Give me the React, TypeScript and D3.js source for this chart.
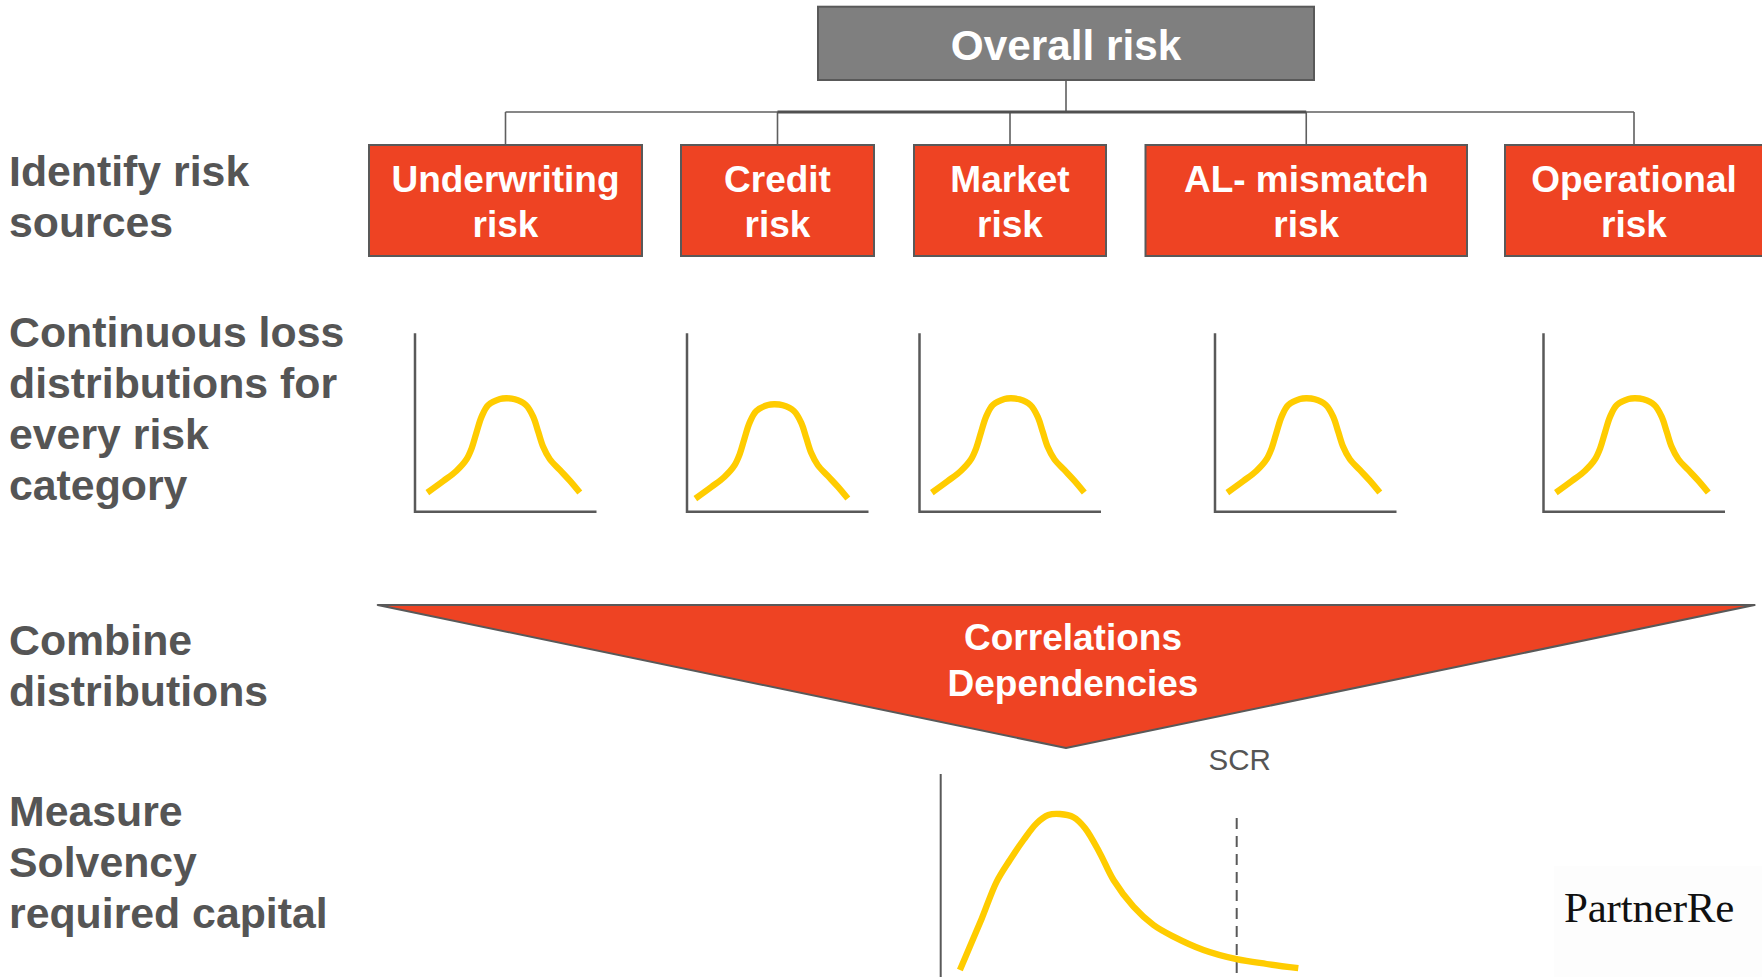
import React from "react";
import * as d3 from "d3";

// Row headings on the left (one entry per process step, split into lines)
const stepLabels: string[][] = [
  ["Identify risk", "sources"],
  ["Continuous loss", "distributions for", "every risk", "category"],
  ["Combine", "distributions"],
  ["Measure", "Solvency", "required capital"],
];
const stepFirstBaseline = [185.5, 347, 655, 825.5];

// Risk categories feeding the overall risk
const rootLabel = "Overall risk";
const riskCategories: string[][] = [
  ["Underwriting", "risk"],
  ["Credit", "risk"],
  ["Market", "risk"],
  ["AL- mismatch", "risk"],
  ["Operational", "risk"],
];
const categorySpans: [number, number][] = [
  [369, 642],
  [681, 874],
  [914, 1106],
  [1145.5, 1467],
  [1505, 1763],
];

// Per-category loss distribution (x: loss, 0..1 of panel width; y: density, 0..1 of panel height)
const bellLoss = [0.068, 0.156, 0.229, 0.284, 0.312, 0.34, 0.367, 0.404, 0.468, 0.505, 0.55, 0.611, 0.651, 0.679, 0.706, 0.743, 0.798, 0.853, 0.908];
const bellDensity = [0.107, 0.172, 0.23, 0.294, 0.355, 0.448, 0.533, 0.598, 0.632, 0.636, 0.63, 0.598, 0.533, 0.448, 0.364, 0.294, 0.234, 0.174, 0.107];
const panelLefts = [415, 687, 919.5, 1215, 1543.5];
const panelShift: [number, number][] = [[0, 0], [-4, 6], [0, 0], [0, 0], [0, 0]];

// Aggregated (skewed) loss distribution and the SCR quantile
const totalLoss = [0.048, 0.073, 0.103, 0.14, 0.173, 0.207, 0.24, 0.269, 0.298, 0.332, 0.361, 0.398, 0.432, 0.482, 0.532, 0.582, 0.657, 0.74, 0.815, 0.894];
const totalDensity = [0.035, 0.152, 0.294, 0.477, 0.585, 0.685, 0.769, 0.81, 0.815, 0.799, 0.744, 0.619, 0.485, 0.352, 0.26, 0.202, 0.135, 0.089, 0.065, 0.044];
const scrLoss = 0.74;
const combineLines = ["Correlations", "Dependencies"];

const RED = "#EE4323";
const GREY_TEXT = "#555555";
const EDGE = "#595959";
const YELLOW = "#FFCC00";
const SANS = "'Liberation Sans', Arial, Helvetica, sans-serif";

export default function App() {
  const W = 1762;
  const H = 977;

  // root box
  const root = { x0: 818, x1: 1314, y0: 6.7, y1: 80 };
  const rootCx = (root.x0 + root.x1) / 2;
  const busY = 112;
  const boxTop = 145;
  const boxBottom = 256;
  const centers = categorySpans.map(([a, b]) => (a + b) / 2);

  // small distribution panels
  const panelW = 181.5;
  const panelTop = 333.3;
  const panelBottom = 511.7;

  const bellPoints = bellLoss.map((x, i) => [x, bellDensity[i]] as [number, number]);

  // triangle
  const tri = { x0: 377.7, x1: 1754.6, y0: 605, apexX: 1066, apexY: 748 };

  // aggregated distribution panel
  const aggX = d3.scaleLinear().domain([0, 1]).range([940.7, 1340.7]);
  const aggY = d3.scaleLinear().domain([0, 1]).range([977, 777]);
  const aggLine = d3
    .line<[number, number]>()
    .x((d) => aggX(d[0]))
    .y((d) => aggY(d[1]))
    .curve(d3.curveCatmullRom.alpha(0.5));
  const aggPoints = totalLoss.map((x, i) => [x, totalDensity[i]] as [number, number]);

  return (
    <svg
      width={W}
      height={H}
      viewBox={`0 0 ${W} ${H}`}
      style={{ position: "absolute", left: 0, top: 0, display: "block", background: "#fff" }}
    >
      {/* step headings */}
      {stepLabels.map((lines, si) => (
        <text
          key={si}
          x={9}
          y={stepFirstBaseline[si]}
          fill={GREY_TEXT}
          fontFamily={SANS}
          fontWeight="bold"
          fontSize={42.8}
        >
          {lines.map((l, li) => (
            <tspan key={li} x={9} y={stepFirstBaseline[si] + li * 51}>
              {l}
            </tspan>
          ))}
        </text>
      ))}

      {/* connectors */}
      <g fill="none" stroke="#5f5f5f" strokeWidth={1.6}>
        <line x1={rootCx} y1={root.y1} x2={rootCx} y2={busY} />
        <line x1={centers[0]} y1={busY} x2={centers[centers.length - 1]} y2={busY} />
        {centers.map((cx, i) => (
          <line key={i} x1={cx} y1={busY} x2={cx} y2={boxTop} />
        ))}
      </g>
      <line x1={centers[1]} y1={busY} x2={centers[3]} y2={busY} stroke="#505050" strokeWidth={3} />

      {/* root box */}
      <rect
        x={root.x0}
        y={root.y0}
        width={root.x1 - root.x0}
        height={root.y1 - root.y0}
        fill="#7F7F7F"
        stroke={EDGE}
        strokeWidth={2}
      />
      <text
        x={rootCx}
        y={60}
        textAnchor="middle"
        fill="#fff"
        fontFamily={SANS}
        fontWeight="bold"
        fontSize={42.3}
      >
        {rootLabel}
      </text>

      {/* category boxes */}
      {riskCategories.map((lines, i) => {
        const [a, b] = categorySpans[i];
        return (
          <g key={i}>
            <rect x={a} y={boxTop} width={b - a} height={boxBottom - boxTop} fill={RED} stroke={EDGE} strokeWidth={2} />
            {lines.map((l, li) => (
              <text
                key={li}
                x={centers[i]}
                y={boxTop + 46.7 + li * 45}
                textAnchor="middle"
                fill="#fff"
                fontFamily={SANS}
                fontWeight="bold"
                fontSize={37}
              >
                {l}
              </text>
            ))}
          </g>
        );
      })}

      {/* per-category distributions */}
      {panelLefts.map((left, i) => {
        const [dx, dy] = panelShift[i];
        const x = d3.scaleLinear().domain([0, 1]).range([left + dx, left + dx + panelW]);
        const y = d3.scaleLinear().domain([0, 1]).range([panelBottom + dy, panelTop + dy]);
        const line = d3
          .line<[number, number]>()
          .x((d) => x(d[0]))
          .y((d) => y(d[1]))
          .curve(d3.curveCatmullRom.alpha(0.5));
        return (
          <g key={i}>
            <path
              d={`M${left},${panelTop} V${panelBottom} H${left + panelW}`}
              fill="none"
              stroke={EDGE}
              strokeWidth={2.5}
            />
            <path d={line(bellPoints) || ""} fill="none" stroke={YELLOW} strokeWidth={6.3} strokeLinejoin="round" />
          </g>
        );
      })}

      {/* combination funnel */}
      <path
        d={`M${tri.x0},${tri.y0} L${tri.x1},${tri.y0} L${tri.apexX},${tri.apexY} Z`}
        fill={RED}
        stroke={EDGE}
        strokeWidth={2}
        strokeLinejoin="round"
      />
      {combineLines.map((l, i) => (
        <text
          key={i}
          x={1073}
          y={650 + i * 45.5}
          textAnchor="middle"
          fill="#fff"
          fontFamily={SANS}
          fontWeight="bold"
          fontSize={37}
        >
          {l}
        </text>
      ))}

      {/* aggregated distribution */}
      <line x1={aggX(0)} y1={774} x2={aggX(0)} y2={H} stroke={EDGE} strokeWidth={2} />
      <line
        x1={aggX(scrLoss)}
        y1={818}
        x2={aggX(scrLoss)}
        y2={H}
        stroke={EDGE}
        strokeWidth={2}
        strokeDasharray="11 7"
      />
      <path d={aggLine(aggPoints) || ""} fill="none" stroke={YELLOW} strokeWidth={6.3} strokeLinejoin="round" />
      <text x={aggX(scrLoss) + 3} y={769.5} textAnchor="middle" fill={GREY_TEXT} fontFamily={SANS} fontSize={29.5}>
        SCR
      </text>

      {/* logo */}
      <rect x={1554} y={866} width={W - 1554} height={H - 866} fill="#fdfdfd" />
      <text
        x={1564}
        y={922}
        fill="#111"
        fontFamily="'Liberation Serif', 'Times New Roman', serif"
        fontSize={43}
        letterSpacing={-0.2}
      >
        PartnerRe
      </text>
    </svg>
  );
}
